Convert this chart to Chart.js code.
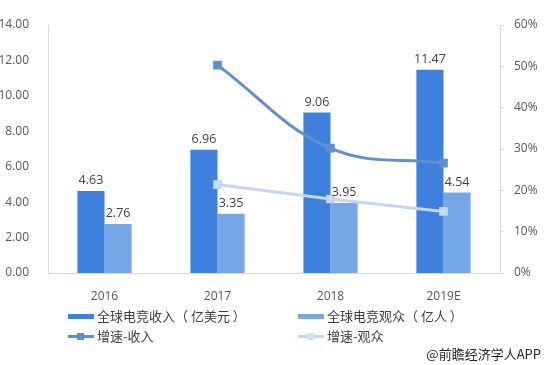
<!DOCTYPE html>
<html>
<head>
<meta charset="utf-8">
<script src="https://cdn.jsdelivr.net/npm/chart.js@4/dist/chart.umd.min.js"></script>
<style>
  body { margin: 0; background: #fff; font-family: "Noto Sans CJK SC", "Noto Sans", sans-serif; }
  #wrap { position: relative; width: 549px; height: 365px; }
  .leg { position: absolute; font-size: 13px; color: #404040; display: flex; align-items: center; white-space: nowrap; }
  .sw { position: relative; width: 26px; height: 12px; margin-right: 3px; }
  .bar { position: absolute; left: 0; top: 4px; width: 26px; height: 5px; }
  .ln { position: absolute; left: 0; top: 5px; width: 26px; height: 3px; }
  .mk { position: absolute; left: 9px; top: 3px; width: 7px; height: 7px; }
  #credit { position: absolute; right: 8px; top: 344px; font-size: 13px; color: #262626; }
</style>
</head>
<body>
<div id="wrap">
  <canvas id="c" width="549" height="365"></canvas>
  <div class="leg" style="left:68px;top:306px"><div class="sw"><div class="bar" style="background:#3f80dc"></div></div>全球电竞收入（ 亿美元 ）</div>
  <div class="leg" style="left:298px;top:306px"><div class="sw"><div class="bar" style="background:#75a7e6"></div></div>全球电竞观众（ 亿人 ）</div>
  <div class="leg" style="left:68px;top:326px"><div class="sw"><div class="ln" style="background:#5e8fcf"></div><div class="mk" style="background:#5e8fcf"></div></div>增速-收入</div>
  <div class="leg" style="left:298px;top:326px"><div class="sw"><div class="ln" style="background:#c3d8ef"></div><div class="mk" style="background:#d2e2f4"></div></div>增速-观众</div>
  <div id="credit">@前瞻经济学人APP</div>
</div>
<script>
const years = ['2016', '2017', '2018', '2019E'];
const revenue = [4.63, 6.96, 9.06, 11.47];
const viewers = [2.76, 3.35, 3.95, 4.54];
const revenueGrowth = [null, 50.3, 30.2, 26.6];
const viewersGrowth = [null, 21.4, 17.9, 14.9];

// labels above the bars
const barLabels = {
  id: 'barLabels',
  afterDatasetsDraw(chart) {
    const ctx = chart.ctx;
    ctx.save();
    ctx.font = '12.5px "Open Sans", sans-serif';
    ctx.fillStyle = '#404040';
    ctx.textAlign = 'center';
    ctx.textBaseline = 'bottom';
    chart.data.datasets.forEach((ds, i) => {
      if (ds.type !== 'bar') return;
      chart.getDatasetMeta(i).data.forEach((el, j) => {
        ctx.fillText(ds.data[j].toFixed(2), el.x, el.y - 4);
      });
    });
    ctx.restore();
  }
};

const tickFont = { family: '"Open Sans", sans-serif', size: 12 };

new Chart(document.getElementById('c'), {
  data: {
    labels: years,
    datasets: [
      {
        type: 'line', label: '增速-收入', data: revenueGrowth, yAxisID: 'y1',
        borderColor: '#5e8fcf', backgroundColor: '#5e8fcf', borderWidth: 3,
        tension: 0.4, pointStyle: 'rect', pointRadius: 4, order: 0
      },
      {
        type: 'line', label: '增速-观众', data: viewersGrowth, yAxisID: 'y1',
        borderColor: '#c3d8ef', backgroundColor: '#d2e2f4', borderWidth: 3,
        tension: 0, pointStyle: 'rect', pointRadius: 4, order: 1
      },
      {
        type: 'bar', label: '全球电竞收入（亿美元）', data: revenue, yAxisID: 'y',
        backgroundColor: '#3f80dc', barPercentage: 1, categoryPercentage: 0.48, order: 2
      },
      {
        type: 'bar', label: '全球电竞观众（亿人）', data: viewers, yAxisID: 'y',
        backgroundColor: '#75a7e6', barPercentage: 1, categoryPercentage: 0.48, order: 3
      }
    ]
  },
  options: {
    responsive: false,
    animation: false,
    layout: { padding: { top: 25, bottom: 62, left: 0, right: 0 } },
    plugins: { legend: { display: false }, tooltip: { enabled: false } },
    scales: {
      x: {
        grid: { display: false },
        border: { color: '#d9d9d9' },
        ticks: { color: '#595959', font: tickFont, padding: 8 },
        afterFit(s) { s.height = 30; }
      },
      y: {
        position: 'left', min: 0, max: 14,
        grid: { display: false },
        border: { color: '#d9d9d9' },
        ticks: { stepSize: 2, color: '#595959', font: tickFont, padding: 11,
          callback: v => v.toFixed(2) },
        afterFit(s) { s.width = 48; }
      },
      y1: {
        position: 'right', min: 0, max: 60,
        grid: { drawOnChartArea: false, color: '#d9d9d9', tickLength: 4 },
        border: { color: '#d9d9d9' },
        ticks: { stepSize: 10, color: '#595959', font: tickFont, padding: 10,
          callback: v => v + '%' },
        afterFit(s) { s.width = 49; }
      }
    }
  },
  plugins: [barLabels]
});
</script>
</body>
</html>
